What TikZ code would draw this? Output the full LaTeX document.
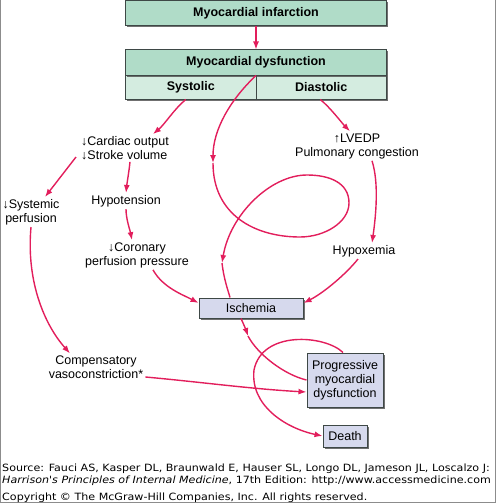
\documentclass[tikz,border=0pt]{standalone}
\usepackage{fontspec}
\setmainfont{Liberation Sans}
\newfontfamily\notefont{DejaVu Sans}
\usetikzlibrary{arrows.meta,shadows}
\definecolor{mired}{RGB}{226,30,92}
\definecolor{greentop}{RGB}{176,220,200}
\definecolor{greenlow}{RGB}{212,236,224}
\definecolor{lilac}{RGB}{214,217,237}
\definecolor{boxline}{RGB}{62,72,70}
\definecolor{framegray}{RGB}{140,140,140}
\begin{document}
\begin{tikzpicture}[x=1pt,y=-1pt,
  every node/.style={font=\fontsize{12.5}{14}\selectfont, inner sep=2pt},
  box/.style={draw=boxline, line width=1pt, inner sep=0pt,
    drop shadow={shadow xshift=1.5pt, shadow yshift=-1.5pt, fill=black!70, opacity=0.8}},
  arr/.style={draw=mired, line width=1.4pt, -{Latex[length=8pt,width=6pt]}},
  lin/.style={draw=mired, line width=1.4pt},
  note/.style={anchor=base west, inner sep=0pt, font=\notefont, xscale=1.11, transform shape}]
\useasboundingbox (0,0) rectangle (497,503);
\draw[framegray, line width=1pt] (0.5,0) -- (0.5,502.5) -- (495.5,502.5) -- (495.5,0);

\node[box, fill=greentop, minimum width=261pt, minimum height=25pt, font=\fontsize{12.5}{14}\bfseries] (mi) at (256,13) {Myocardial infarction};
\node[box, fill=greenlow, minimum width=130.5pt, minimum height=24pt, font=\fontsize{12.5}{14}\bfseries] (sys) at (190.75,87) {Systolic};
\node[box, fill=greenlow, minimum width=130.5pt, minimum height=24pt, font=\fontsize{12.5}{14}\bfseries] (dia) at (321.25,87) {Diastolic};
\node[box, fill=greentop, minimum width=261pt, minimum height=25pt, font=\fontsize{12.5}{14}\bfseries] (dys) at (256,62.5) {Myocardial dysfunction};

\node[align=left, anchor=west] (co) at (79,148) {\textdownarrow Cardiac output\\\textdownarrow Stroke volume};
\node[align=center] (lv) at (357,146) {\textuparrow LVEDP\\Pulmonary congestion};
\node[align=center] (sp) at (31,212) {\textdownarrow Systemic\\perfusion};
\node (hy) at (126,201) {Hypotension};
\node[align=center] (cp) at (137,255) {\textdownarrow Coronary\\perfusion pressure};
\node (hx) at (364,251) {Hypoxemia};
\node[align=center] (cv) at (96,367) {Compensatory\\vasoconstriction*};

\node[box, fill=lilac, minimum width=104pt, minimum height=20pt] (isch) at (251,308) {Ischemia};
\node[box, fill=lilac, minimum width=76pt, minimum height=54pt, align=center] (pmd) at (345,380) {Progressive\\myocardial\\dysfunction};
\node[box, fill=lilac, minimum width=44pt, minimum height=22pt] (death) at (345,436) {Death};

\coordinate (sp1) at (213,163);
\coordinate (sp2) at (222,263);
\coordinate (sp3) at (248,336);

\path[arr] (mi.south) -- (dys.north);
\path[arr] ([xshift=-5pt]sys.south) .. controls +(-12,10) and +(12,-10) .. ([xshift=28pt]co.north);
\path[arr] ([xshift=-1pt]dia.south) .. controls +(10,8) and +(-8,-8) .. ([xshift=-7pt]lv.north);
\path[arr] ([xshift=-3pt,yshift=-9pt]co.west) -- ([xshift=14pt]sp.north);
\path[arr] ([xshift=5pt]co.south) .. controls +(-1,10) and +(1,-10) .. (hy.north);
\path[arr] (hy.south) .. controls +(0,10) and +(-2,-10) .. ([xshift=-5pt]cp.north);
\path[arr] ([xshift=16pt]cp.south) .. controls +(10,18) and +(-15,-8) .. ([yshift=5pt]isch.west);
\path[arr] ([xshift=15pt]lv.south) .. controls +(7,22) and +(4,-28) .. ([xshift=8pt]hx.north);
\path[arr] ([xshift=-6pt]hx.south) .. controls +(-12,15) and +(20,-10) .. ([yshift=5pt]isch.east);
\path[arr] (sp.south) .. controls +(-5,55) and +(-25,-28) .. ([xshift=-26pt]cv.north);
\path[arr] ([yshift=-10pt]cv.east) .. controls +(55,5) and +(-55,-3) .. ([yshift=-12pt]pmd.west);

\path[arr] (dys.south) .. controls (230,100) and (213,130) .. (sp1);
\path[arr] (sp1) .. controls (213,215) and (255,237) .. (300,237) .. controls (325,237) and (349,222) .. (349,203) .. controls (349,183) and (330,175) .. (307,175) .. controls (270,175) and (230,215) .. (sp2);
\path[lin] (sp2) .. controls (224,280) and (228,290) .. ([xshift=-21pt]isch.north);
\path[arr] ([xshift=-10pt]isch.south) .. controls (244,325) and (246,330) .. (sp3);
\path[lin] (sp3) .. controls (258,355) and (285,375) .. (pmd.west);
\path[arr] ([xshift=-2pt]pmd.north) .. controls (325,335) and (262,330) .. (254,370) .. controls (250,405) and (285,428) .. (death.west);

\node[note] (src) at (2,471) {Source: Fauci AS, Kasper DL, Braunwald E, Hauser SL, Longo DL, Jameson JL, Loscalzo J:};
\node[note] (ed) at (2,483) {\textit{Harrison's Principles of Internal Medicine}, 17th Edition: http://www.accessmedicine.com};
\node[note] (cr) at (2,500) {Copyright © The McGraw-Hill Companies, Inc. All rights reserved.};
\end{tikzpicture}
\end{document}
